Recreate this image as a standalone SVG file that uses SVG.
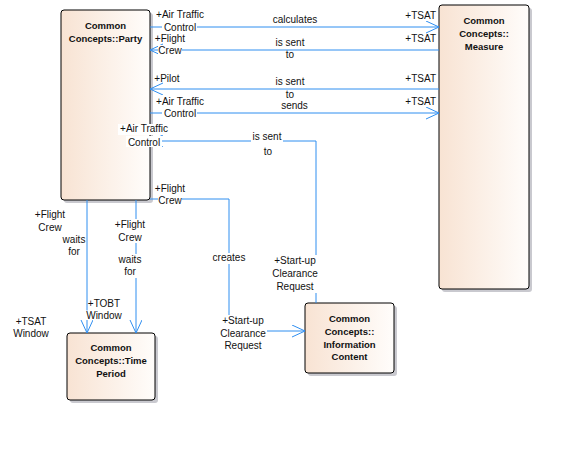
<svg xmlns="http://www.w3.org/2000/svg" width="570" height="458" viewBox="0 0 570 458">
<style>
.box{stroke:#000;stroke-width:1;fill:url(#g)}
.sh{fill:#c9c9cf}
.t{font-family:"Liberation Sans",Arial,sans-serif;font-size:9.5px;font-weight:bold;fill:#111;text-anchor:middle}
.l{font-family:"Liberation Sans",Arial,sans-serif;font-size:10px;fill:#111;text-anchor:middle}
.e{text-anchor:end}
.c{fill:none;stroke:#2f8ef0;stroke-width:1}
.bg{fill:#fff}
</style>
<defs>
<linearGradient id="g" x1="0" y1="0" x2="1" y2="0">
<stop offset="0" stop-color="#f8e3d3"/>
<stop offset="1" stop-color="#fffdfb"/>
</linearGradient>
<marker id="a" markerUnits="userSpaceOnUse" markerWidth="16" markerHeight="14" refX="13" refY="6" orient="auto-start-reverse" viewBox="0 0 16 14">
<path d="M0,0 L13,6 L0,12" fill="none" stroke="#2f8ef0" stroke-width="1"/>
</marker>
</defs>
<rect width="570" height="458" fill="#fff"/>

<g id="party">
<rect class="sh" x="64" y="13" width="89" height="190" rx="3"/>
<rect class="box" x="61" y="10" width="89" height="190" rx="3"/>
<text class="t" x="105.5" y="29">Common</text>
<text class="t" x="105.5" y="42">Concepts::Party</text>
</g>
<g id="measure">
<rect class="sh" x="442" y="8" width="90" height="284" rx="3"/>
<rect class="box" x="439" y="5" width="90" height="284" rx="3"/>
<text class="t" x="484" y="24">Common</text>
<text class="t" x="484" y="37">Concepts::</text>
<text class="t" x="484" y="50">Measure</text>
</g>
<g id="timeperiod">
<rect class="sh" x="70" y="336" width="88" height="67" rx="3"/>
<rect class="box" x="67" y="333" width="88" height="67" rx="3"/>
<text class="t" x="111" y="351">Common</text>
<text class="t" x="111" y="364">Concepts::Time</text>
<text class="t" x="111" y="377">Period</text>
</g>
<g id="infocontent">
<rect class="sh" x="308" y="306" width="89" height="70" rx="3"/>
<rect class="box" x="305" y="303" width="89" height="70" rx="3"/>
<text class="t" x="349.5" y="322">Common</text>
<text class="t" x="349.5" y="335">Concepts::</text>
<text class="t" x="349.5" y="347.5">Information</text>
<text class="t" x="349.5" y="360">Content</text>
</g>

<g id="connectors">
<path class="c" d="M150,27 H439" marker-end="url(#a)"/>
<path class="c" d="M150,50 H439" marker-start="url(#a)"/>
<path class="c" d="M150,89 H439" marker-start="url(#a)"/>
<path class="c" d="M150,113 H439" marker-end="url(#a)"/>
<path class="c" d="M150,141 H316 V303" marker-start="url(#a)"/>
<path class="c" d="M150,199 H229 V331 H305" marker-end="url(#a)"/>
<path class="c" d="M87,200 V333" marker-end="url(#a)"/>
<path class="c" d="M136,200 V333" marker-end="url(#a)"/>
</g>

<g id="labels">
<!-- backgrounds hiding lines under labels -->
<rect class="bg" x="162" y="23" width="35" height="11"/>
<rect class="bg" x="158" y="45" width="24" height="11"/>
<rect class="bg" x="162" y="109" width="35" height="11"/>
<rect class="bg" x="118" y="124" width="51" height="11"/>
<rect class="bg" x="126" y="136" width="36" height="11"/>
<rect class="bg" x="251" y="132" width="32" height="11"/>
<rect class="bg" x="272" y="255" width="47" height="38"/>
<rect class="bg" x="158" y="194" width="24" height="11"/>
<rect class="bg" x="211" y="253" width="36" height="11"/>
<rect class="bg" x="219" y="315" width="48" height="37"/>
<rect class="bg" x="85" y="310.5" width="38" height="9.5"/>
<rect class="bg" x="113" y="219" width="34" height="24"/>
<rect class="bg" x="116" y="254" width="28" height="24"/>

<text class="l" x="180" y="18">+Air Traffic</text>
<text class="l" x="180" y="31">Control</text>
<text class="l" x="295" y="22.5">calculates</text>
<text class="l e" x="436" y="19.3">+TSAT</text>

<text class="l" x="170" y="41.7">+Flight</text>
<text class="l" x="170" y="54">Crew</text>
<text class="l" x="290" y="46">is sent</text>
<text class="l" x="290" y="58.3">to</text>
<text class="l e" x="436" y="41.7">+TSAT</text>

<text class="l" x="167" y="81.7">+Pilot</text>
<text class="l" x="290" y="85">is sent</text>
<text class="l" x="290" y="98.3">to</text>
<text class="l e" x="436" y="81.7">+TSAT</text>

<text class="l" x="180" y="105">+Air Traffic</text>
<text class="l" x="180" y="117.3">Control</text>
<text class="l" x="294.5" y="109.3">sends</text>
<text class="l e" x="436" y="105">+TSAT</text>

<text class="l" x="144" y="132.3">+Air Traffic</text>
<text class="l" x="144" y="145.7">Control</text>
<text class="l" x="267" y="140">is sent</text>
<text class="l" x="268" y="155">to</text>
<text class="l" x="295" y="264.3">+Start-up</text>
<text class="l" x="295" y="277.3">Clearance</text>
<text class="l" x="295" y="290">Request</text>

<text class="l" x="170" y="191.7">+Flight</text>
<text class="l" x="170" y="204">Crew</text>
<text class="l" x="229" y="260.7">creates</text>
<text class="l" x="243" y="324.3">+Start-up</text>
<text class="l" x="243" y="337.3">Clearance</text>
<text class="l" x="243" y="349">Request</text>

<text class="l" x="50" y="218.3">+Flight</text>
<text class="l" x="50" y="230.7">Crew</text>
<text class="l" x="74" y="242.7">waits</text>
<text class="l" x="74" y="255">for</text>
<text class="l" x="104" y="306.7">+TOBT</text>
<text class="l" x="104" y="319.3">Window</text>
<text class="l" x="31" y="325">+TSAT</text>
<text class="l" x="31" y="337.3">Window</text>

<text class="l" x="130" y="227.7">+Flight</text>
<text class="l" x="130" y="240.7">Crew</text>
<text class="l" x="130" y="262.7">waits</text>
<text class="l" x="130" y="275">for</text>
</g>
</svg>
